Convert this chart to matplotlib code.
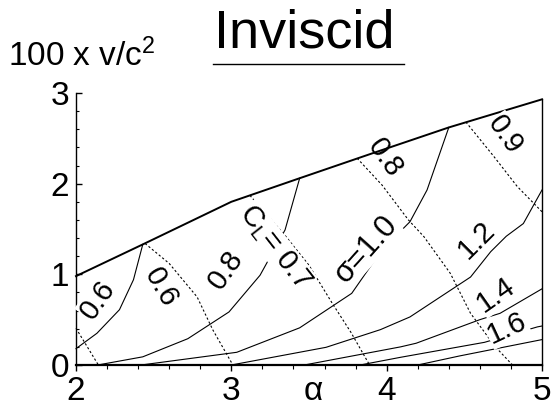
import matplotlib
matplotlib.use("Agg")
import matplotlib.pyplot as plt
from matplotlib.lines import Line2D
from matplotlib.ticker import MultipleLocator

plt.rcParams['font.family'] = ['Liberation Sans', 'DejaVu Sans']
plt.rcParams['mathtext.fontset'] = 'custom'
plt.rcParams['mathtext.rm'] = 'Liberation Sans'
plt.rcParams['mathtext.it'] = 'Liberation Sans:italic'

# --- upper limit of the map ---
alpha_top = [2.0, 2.43, 3.0, 3.44, 3.9, 4.4, 5.0]
v_top = [0.98, 1.33, 1.80, 2.06, 2.33, 2.62, 2.93]

# --- constant sigma curves (solid) ---
s06_a = [2.0, 2.135, 2.28, 2.37, 2.43]
s06_v = [0.18, 0.35, 0.61, 0.94, 1.33]
s08_a = [2.14, 2.43, 2.72, 2.985, 3.185, 3.346, 3.44]
s08_v = [0.0, 0.09, 0.29, 0.585, 0.99, 1.49, 2.06]
s10_a = [2.42, 3.035, 3.44, 3.775, 3.97, 4.15, 4.26, 4.40]
s10_v = [0.0, 0.14, 0.41, 0.79, 1.27, 1.58, 1.93, 2.62]
s12_a = [3.0, 3.61, 3.96, 4.15, 4.54, 4.67, 4.77, 4.88, 5.0]
s12_v = [0.0, 0.195, 0.39, 0.53, 0.97, 1.25, 1.42, 1.56, 1.93]
s14_a = [3.47, 4.09, 4.19, 4.6, 4.73, 5.0]
s14_v = [0.0, 0.20, 0.24, 0.50, 0.57, 0.84]
s16_a = [3.83, 4.09, 4.63, 4.97, 5.0]
s16_v = [0.0, 0.085, 0.25, 0.42, 0.43]
s18_a = [4.2, 4.47, 5.0]
s18_v = [0.0, 0.10, 0.28]

# --- constant C_L curves (dashed) ---
c05_a = [2.0, 2.144]
c05_v = [0.405, 0.0]
c06_a = [2.445, 2.6, 2.78, 2.88, 3.01]
c06_v = [1.34, 1.12, 0.75, 0.39, 0.0]
c07_a = [3.12, 3.35, 3.50, 3.65, 3.77, 3.89]
c07_v = [1.87, 1.42, 1.10, 0.68, 0.36, 0.0]
c08_a = [3.81, 3.97, 4.14, 4.24, 4.41, 4.54, 4.70, 4.81]
c08_v = [2.28, 1.985, 1.60, 1.415, 1.01, 0.57, 0.20, 0.0]
c09_a = [4.51, 4.69, 4.84, 5.0]
c09_v = [2.68, 2.30, 1.97, 1.69]

sigma_curves = [(s06_a, s06_v), (s08_a, s08_v), (s10_a, s10_v), (s12_a, s12_v),
                (s14_a, s14_v), (s16_a, s16_v), (s18_a, s18_v)]
cl_curves = [(c05_a, c05_v), (c06_a, c06_v), (c07_a, c07_v),
             (c08_a, c08_v), (c09_a, c09_v)]

fig = plt.figure(figsize=(5.53, 4.12), dpi=100)
ax = fig.add_axes([0.1374, 0.1141, 0.8427, 0.6602])
ax.set_xlim(2, 5)
ax.set_ylim(0, 3)

ax.plot(alpha_top, v_top, color='k', lw=1.4, clip_on=False, zorder=3)
ax.plot([alpha_top[-1], alpha_top[-1]], [0, v_top[-1]], color='k', lw=1.0, clip_on=False)

for a, v in sigma_curves:
    ax.plot(a, v, color='k', lw=0.8, clip_on=False, zorder=2)
for a, v in cl_curves:
    ax.plot(a, v, color='k', lw=0.8, dashes=(2, 2), clip_on=False, zorder=2)

# contour labels: (alpha, v, text, rotation, size, white box)
labels = [
    (2.142, 0.717, '0.6', 55, 21, True),
    (2.547, 0.86, '0.6', -60, 21, True),
    (2.966, 1.048, '0.8', 55, 21, True),
    (3.281, 1.301, r'C$_\mathrm{L}$= 0.7', -52, 21, True),
    (3.867, 1.279, 'σ=1.0', 48, 22, True),
    (3.989, 2.283, '0.8', -55, 21, False),
    (4.762, 2.537, '0.9', -55, 21, True),
    (4.58, 1.379, '1.2', 45, 21, True),
    (4.704, 0.772, '1.4', 35, 21, True),
    (4.775, 0.408, '1.6', 25, 21, True),
]
for x, y, s, rot, size, boxed in labels:
    kw = dict(ha='center', va='center', rotation=rot, fontsize=size,
              rotation_mode='anchor', zorder=4)
    if boxed:
        kw['bbox'] = dict(facecolor='white', edgecolor='none', pad=0.5)
    ax.text(x, y, s, **kw)

for side in ['top', 'right']:
    ax.spines[side].set_visible(False)
ax.spines['left'].set_linewidth(1.0)
ax.spines['bottom'].set_linewidth(1.6)

ax.set_xticks([2, 3, 4, 5])
ax.set_yticks([0, 1, 2, 3])
ax.xaxis.set_minor_locator(MultipleLocator(0.2))
ax.yaxis.set_minor_locator(MultipleLocator(0.2))
ax.tick_params(axis='x', which='major', direction='out', length=4.5, width=1.0,
               labelsize=24, pad=3.5)
ax.tick_params(axis='x', which='minor', direction='out', length=3, width=0.8)
ax.tick_params(axis='y', which='major', direction='in', length=4, width=1.0,
               labelsize=24, pad=5)
ax.tick_params(axis='y', which='minor', direction='in', length=2.5, width=0.8)

fig.text(313 / 553, 1 - 392 / 412, 'α', ha='center', va='center', fontsize=24)
fig.text(8 / 553, 1 - 66 / 412, r'100 x v/c$^\mathrm{2}$', ha='left', va='baseline',
         fontsize=24)
fig.text(304 / 553, 1 - 47 / 412, 'Inviscid', ha='center', va='baseline', fontsize=39)
fig.add_artist(Line2D([213 / 553, 404 / 553], [1 - 64 / 412, 1 - 64 / 412],
                      color='k', lw=1.0))

fig.savefig('out.png', dpi=100)
